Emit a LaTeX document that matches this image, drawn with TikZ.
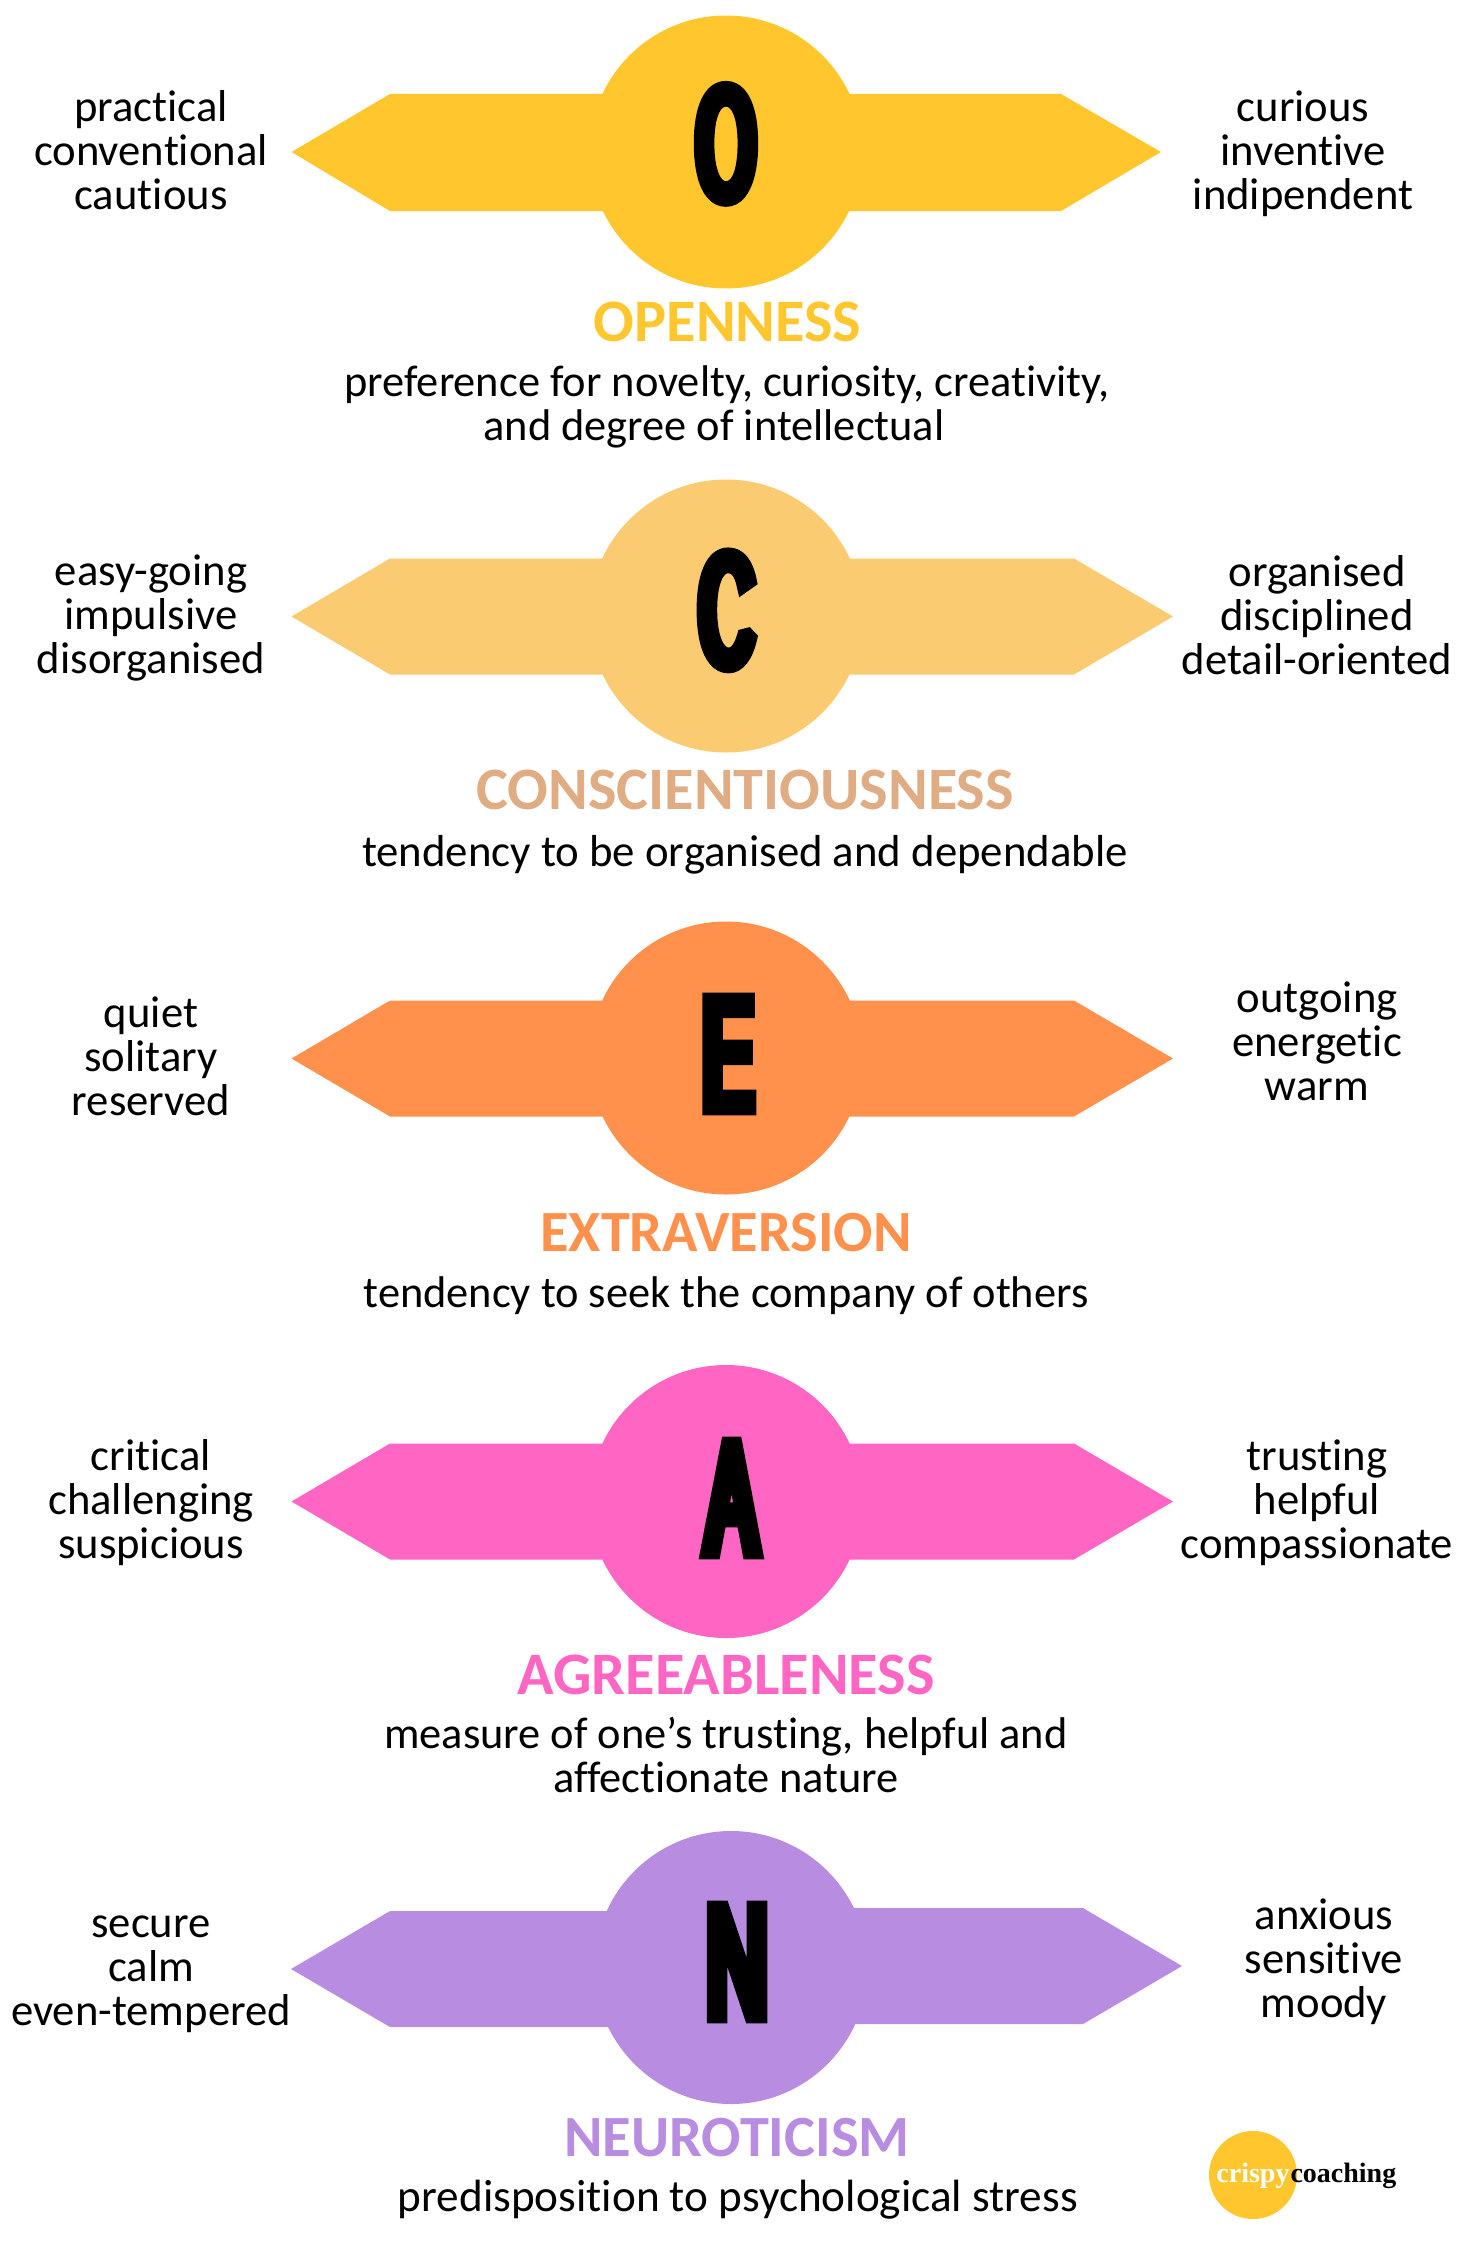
\documentclass[tikz,border=0pt]{standalone}
\usepackage{fontspec}
\setmainfont{Carlito}[Ligatures=NoCommon]
\newfontfamily\letterfont{Liberation Sans}[FakeStretch=0.47,FakeBold=8.5]
\newfontfamily\wideletterfont{Liberation Sans}[FakeStretch=0.53,FakeBold=8.5]
\newfontfamily\logofont{Liberation Serif}

\tikzset{every picture/.style={line width=0.75pt}}
\tikzset{sidetext/.style={inner sep=0pt,align=center,font=\fontsize{33.5pt}{33pt}\selectfont},
  desctext/.style={inner sep=0pt,anchor=base,font=\fontsize{33.3pt}{33pt}\selectfont},
  titletext/.style={inner sep=0pt,anchor=base,font=\fontsize{45.2pt}{47pt}\selectfont\bfseries},
  bigletter/.style={inner sep=0pt,anchor=base,font=\fontsize{119pt}{120pt}\letterfont},
  logotext/.style={inner sep=0pt,font=\fontsize{21pt}{23pt}\logofont\bfseries}}

\begin{document}
\begin{tikzpicture}[x=0.75pt,y=0.75pt,yscale=-1,xscale=1]
\useasboundingbox (0,0) rectangle (1469,2241);

%Shape: Openness
\fill [color={rgb, 255:red, 255; green, 198; blue, 46 }]  (291.5,152) -- (390,94) -- (1061,94) -- (1161,152) -- (1061,211) -- (390,211) -- cycle ;
\fill [color={rgb, 255:red, 255; green, 198; blue, 46 }]  (726,152) circle (136.5) ;
%Shape: Conscientiousness
\fill [color={rgb, 255:red, 251; green, 203; blue, 113 }]  (291.5,616.5) -- (390,558.5) -- (1074,558.5) -- (1173,616.5) -- (1074,674.5) -- (390,674.5) -- cycle ;
\fill [color={rgb, 255:red, 251; green, 203; blue, 113 }]  (726,616) circle (136.5) ;
%Shape: Extraversion
\fill [color={rgb, 255:red, 255; green, 145; blue, 77 }]  (291.5,1058.5) -- (390,1000.5) -- (1074,1000.5) -- (1173,1058.5) -- (1074,1116.5) -- (390,1116.5) -- cycle ;
\fill [color={rgb, 255:red, 255; green, 145; blue, 77 }]  (726,1058) circle (136.5) ;
%Shape: Agreeableness
\fill [color={rgb, 255:red, 255; green, 102; blue, 196 }]  (291.5,1501.5) -- (390,1443.5) -- (1074,1443.5) -- (1173,1501.5) -- (1074,1559.5) -- (390,1559.5) -- cycle ;
\fill [color={rgb, 255:red, 255; green, 102; blue, 196 }]  (726,1501.5) circle (136.5) ;
%Shape: Neuroticism
\fill [color={rgb, 255:red, 184; green, 140; blue, 224 }]  (291,1969) -- (390,1911) -- (731,1911) -- (731,2027) -- (390,2027) -- cycle ;
\fill [color={rgb, 255:red, 184; green, 140; blue, 224 }]  (731,1908) -- (1083,1908) -- (1182,1966) -- (1083,2024) -- (731,2024) -- cycle ;
\fill [color={rgb, 255:red, 184; green, 140; blue, 224 }]  (731,1967.5) circle (136.5) ;
%Shape: Logo
\fill [color={rgb, 255:red, 255; green, 198; blue, 46 }]  (1253,2175) circle (44) ;

% Big letters
\begin{scope}[miter limit=2]
\draw (726,198.5) node (letterO) [bigletter] {O};
\draw (726.5,665) node (letterC) [bigletter] {C};
\draw (728,1108.5) node (letterE) [bigletter] {E};
\draw (731.5,1552.5) node (letterA) [bigletter] {A};
\draw (737,2016.5) node (letterN) [bigletter] {\wideletterfont N};
\end{scope}

% Left lists
\draw (151,150.5) node (leftO) [sidetext] {practical\\conventional\\cautious};
\draw (151,618) node (leftC) [sidetext] {easy-going\\impulsive\\disorganised};
\draw (151,1056.5) node (leftE) [sidetext] {quiet\\solitary\\reserved};
\draw (151,1503) node (leftA) [sidetext] {critical\\challenging\\suspicious};
\draw (151,1974.5) node (leftN) [sidetext] {secure\\calm\\even-tempered};
% Right lists
\draw (1303,153.5) node (rightO) [sidetext] {curious\\inventive\\indipendent};
\draw (1317,615) node (rightC) [sidetext] {organised\\disciplined\\detail-oriented};
\draw (1317,1041.5) node (rightE) [sidetext] {outgoing\\energetic\\warm};
\draw (1317,1503) node (rightA) [sidetext] {trusting\\helpful\\compassionate};
\draw (1324,1962) node (rightN) [sidetext] {anxious\\sensitive\\moody};

% Titles
\draw (727.5,341.5) node (titleO) [titletext,color={rgb, 255:red, 255; green, 198; blue, 46 }] {OPENNESS};
\draw (745,809) node (titleC) [titletext,color={rgb, 255:red, 224; green, 172; blue, 132 }] {CONSCIENTIOUSNESS};
\draw (726,1251.5) node (titleE) [titletext,font=\fontsize{43.8pt}{47pt}\selectfont\bfseries,color={rgb, 255:red, 255; green, 145; blue, 77 }] {EXTRAVERSION};
\draw (726,1694) node (titleA) [titletext,color={rgb, 255:red, 255; green, 102; blue, 196 }] {AGREEABLENESS};
\draw (737,2156) node (titleN) [titletext,font=\fontsize{43.8pt}{47pt}\selectfont\bfseries,color={rgb, 255:red, 184; green, 140; blue, 224 }] {NEUROTICISM};

% Descriptions
\draw (727,396.5) node (descO) [desctext] {preference for novelty, curiosity, creativity,};
\draw (714,440.5) node (descOb) [desctext] {and degree of intellectual};
\draw (745,866) node (descC) [desctext,font=\fontsize{33.6pt}{33pt}\selectfont] {tendency to be organised and dependable};
\draw (726,1307) node (descE) [desctext] {tendency to seek the company of others};
\draw (726,1748.5) node (descA) [desctext] {measure of one’s trusting, helpful and};
\draw (726,1792.5) node (descAb) [desctext] {affectionate nature};
\draw (738,2211) node (descN) [desctext,font=\fontsize{33.9pt}{33pt}\selectfont] {predisposition to psychological stress};

% Logo text
\draw (1290,2182) node (logoa) [logotext,anchor=base east,color=white] {crispy};
\draw (1290,2182) node (logob) [logotext,anchor=base west,color=black] {coaching};
\end{tikzpicture}
\end{document}
